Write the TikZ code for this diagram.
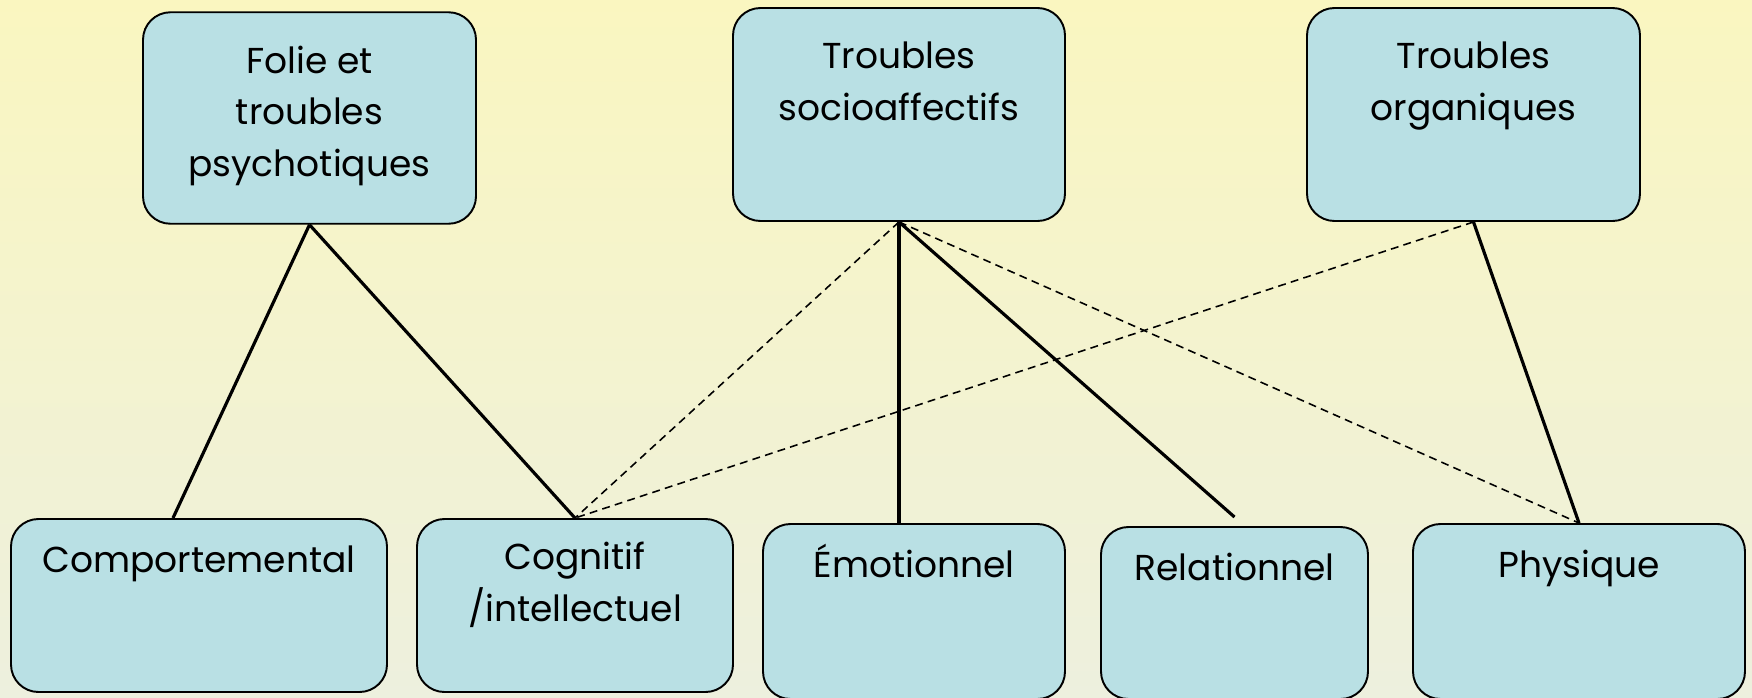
\documentclass[tikz,border=0pt]{standalone}
\usepackage{fontspec}
\setmainfont{Poppins}
\usepackage{tikz}
\usetikzlibrary{positioning,calc}
\usepackage{xcolor}
\definecolor{fond haut}{RGB}{250,246,192}
\definecolor{fond bas}{RGB}{237,240,222}
\definecolor{bleu boite}{RGB}{185,224,228}
\tikzstyle{boite}=[draw, line width=1.1pt, fill=bleu boite, rounded corners=0.55cm]
% ancre sur la ligne de base de la derniere ligne
\tikzstyle{texte boite}=[font=\fontsize{20.5}{29.5}\selectfont, align=center, anchor=base, inner sep=0pt]
\tikzstyle{lien}=[line width=1.8pt]
\tikzstyle{lien pointille}=[line width=0.9pt, dash pattern=on 4.5pt off 3pt]

\begin{document}
\begin{tikzpicture}
        % Fond
        \useasboundingbox (0,0) rectangle (35.04,-13.94);
        \shade[top color=fond haut, bottom color=fond bas] (0,0) rectangle (35.04,-13.94);

        % Troubles (rangee du haut)
        \node[boite, minimum width=6.66cm, minimum height=4.23cm] (folie) at (6.19,-2.36) {};
        \node[boite, minimum width=6.64cm, minimum height=4.26cm] (socio) at (17.98,-2.29) {};
        \node[boite, minimum width=6.66cm, minimum height=4.26cm] (orga) at (29.47,-2.29) {};
        \node[texte boite] (folie texte) at ([yshift=-3.31cm]folie.north) {Folie et\\troubles\\psychotiques};
        \node[texte boite] (socio texte) at ([yshift=-2.27cm]socio.north) {Troubles\\socioaffectifs};
        \node[texte boite] (orga texte) at ([yshift=-2.27cm]orga.north) {Troubles\\organiques};

        % Domaines (rangee du bas)
        \node[boite, minimum width=7.52cm, minimum height=3.46cm] (comp) at (3.98,-12.11) {};
        \node[boite, minimum width=6.32cm, minimum height=3.46cm] (cogn) at (11.5,-12.11) {};
        \node[boite, minimum width=6.04cm, minimum height=3.5cm] (emot) at (18.28,-12.23) {};
        \node[boite, minimum width=5.34cm, minimum height=3.44cm] (relat) at (24.69,-12.26) {};
        \node[boite, minimum width=6.64cm, minimum height=3.5cm] (phys) at (31.58,-12.23) {};
        \node[texte boite] (comp texte) at ([yshift=-1.08cm]comp.north) {Comportemental};
        \node[texte boite] (cogn texte) at ([yshift=-2.06cm]cogn.north) {Cognitif\\/intellectuel};
        \node[texte boite] (emot texte) at ([yshift=-1.08cm]emot.north) {Émotionnel};
        \node[texte boite] (relat texte) at ([yshift=-1.08cm]relat.north) {Relationnel};
        \node[texte boite] (phys texte) at ([yshift=-1.08cm]phys.north) {Physique};

        % Liens forts
        \draw[lien] (folie.south) -- ([xshift=-0.52cm]comp.north);
        \draw[lien] (folie.south) -- (cogn.north);
        \draw[lien] (socio.south) -- (socio.south |- emot.north);
        \draw[lien] (socio.south) -- ([yshift=0.18cm]relat.north);
        \draw[lien] (orga.south) -- (phys.north);

        % Liens faibles
        \draw[lien pointille] (socio.south) -- (cogn.north);
        \draw[lien pointille] (socio.south) -- (phys.north);
        \draw[lien pointille] (orga.south) -- (cogn.north);
    \end{tikzpicture}
\end{document}
